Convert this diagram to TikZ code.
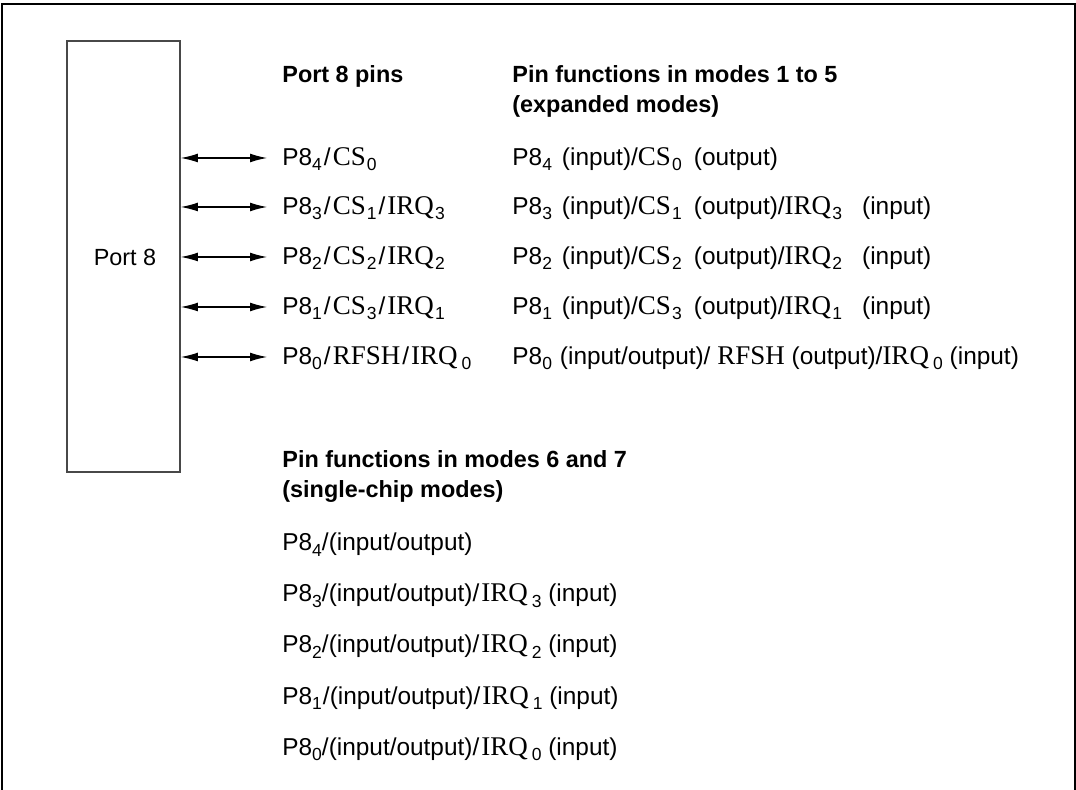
\documentclass[tikz,border=0pt]{standalone}
\usepackage{fontspec}
\setmainfont{Liberation Sans}
\newfontfamily\tms{Liberation Serif}
\usetikzlibrary{arrows.meta}
\newcommand\subs[1]{\raisebox{-2.7pt}{\normalfont\fontsize{8.75}{9}\selectfont #1}}
\newcommand\ssubs[1]{\kern0.6pt\subs{#1}}
\newcommand\ser[1]{{\fontsize{13.5}{14}\selectfont\tms #1}}
\newcommand\slsh{\kern1pt/\kern1pt}
\newcommand\gp[1]{\hspace*{#1pt}}
\definecolor{boxgray}{HTML}{484848}
\begin{document}
\begin{tikzpicture}[x=0.5pt,y=-0.5pt,
  font=\fontsize{11.7}{14}\selectfont,
  lbl/.style={anchor=base west, inner sep=0pt},
  row/.style={lbl, font=\fontsize{12.2}{14}\selectfont},
  head/.style={lbl, font=\fontsize{11.7}{14}\selectfont\bfseries},
  arr/.style={{Latex[length=8.5pt,width=4.4pt]}-{Latex[length=8.5pt,width=4.4pt]}, line width=0.55pt},
  portbox/.style={draw=boxgray, line width=0.8pt, minimum width=56.5pt, minimum height=215.5pt, inner sep=0pt}]
\useasboundingbox (0,0) rectangle (1076,790);
% outer frame (open at the bottom)
\draw[line width=0.9pt] (2,790) -- (2,4) -- (1075,4) -- (1075,790);
% port box
\node[portbox] (box) at (123.5,256.5) {};
\node[inner sep=0pt] (boxlbl) at (125,257) {Port 8};
% headings
\node[head] (h1) at (282,83) {Port 8 pins};
\node[head] (h2a) at (512,83) {Pin functions in modes 1 to 5};
\node[head] (h2b) at (512,113) {(expanded modes)};
\node[head] (h3a) at (282,468) {Pin functions in modes 6 and 7};
\node[head] (h3b) at (282,498) {(single-chip modes)};
% pin names
\node[row] (p4) at (282,165.5) {P8\subs{4}\slsh\ser{CS}\ssubs{0}};
\node[row] (p3) at (282,214.5) {P8\subs{3}\slsh\ser{CS}\ssubs{1}\slsh\ser{IRQ}\ssubs{3}};
\node[row] (p2) at (282,264.5) {P8\subs{2}\slsh\ser{CS}\ssubs{2}\slsh\ser{IRQ}\ssubs{2}};
\node[row] (p1) at (282,314.5) {P8\subs{1}\slsh\ser{CS}\ssubs{3}\slsh\ser{IRQ}\ssubs{1}};
\node[row] (p0) at (282,364.5) {P8\subs{0}\slsh\ser{RFSH}\slsh\ser{IRQ}\kern2pt\subs{0}};
% arrow ends
\coordinate (e4) at (267,158);
\coordinate (e3) at (267,207);
\coordinate (e2) at (267,257);
\coordinate (e1) at (267,307);
\coordinate (e0) at (267,357);
\foreach \i in {4,3,2,1,0}{\draw[arr] (box.east |- e\i) -- (e\i);}
% expanded mode functions
\node[row] (f4) at (512,165.5) {P8\subs{4}\gp{5}(input)/\ser{CS}\ssubs{0}\gp{6}(output)};
\node[row] (f3) at (512,214.5) {P8\subs{3}\gp{5}(input)/\ser{CS}\ssubs{1}\gp{6}(output)/\ser{IRQ}\ssubs{3}\gp{10}(input)};
\node[row] (f2) at (512,264.5) {P8\subs{2}\gp{5}(input)/\ser{CS}\ssubs{2}\gp{6}(output)/\ser{IRQ}\ssubs{2}\gp{10}(input)};
\node[row] (f1) at (512,314.5) {P8\subs{1}\gp{5}(input)/\ser{CS}\ssubs{3}\gp{6}(output)/\ser{IRQ}\ssubs{1}\gp{10}(input)};
\node[row] (f0) at (512,364.5) {P8\subs{0}\gp{4}(input/output)/ \ser{RFSH} (output)/\ser{IRQ}\kern2pt\subs{0}\gp{3.5}(input)};
% single-chip mode functions
\node[row] (s4) at (282,551) {P8\subs{4}/(input/output)};
\node[row] (s3) at (282,602) {P8\subs{3}/(input/output)/\kern1pt\ser{IRQ}\kern2pt\subs{3} (input)};
\node[row] (s2) at (282,653) {P8\subs{2}/(input/output)/\kern1pt\ser{IRQ}\kern2pt\subs{2} (input)};
\node[row] (s1) at (282,704) {P8\subs{1}\kern0.5pt/(input/output)/\kern1pt\ser{IRQ}\kern2pt\subs{1} (input)};
\node[row] (s0) at (282,755) {P8\subs{0}/(input/output)/\kern1pt\ser{IRQ}\kern2pt\subs{0} (input)};
\end{tikzpicture}
\end{document}
